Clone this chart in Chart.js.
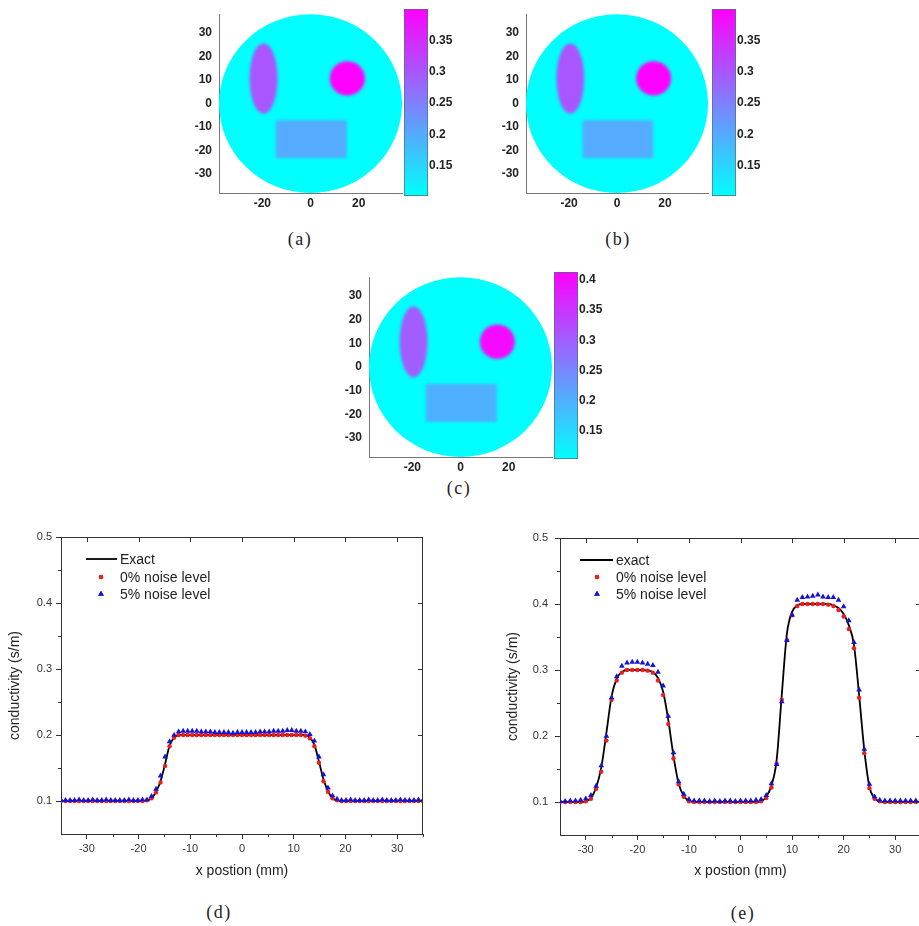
<!DOCTYPE html>
<html>
<head>
<meta charset="utf-8">
<title>Conductivity reconstruction</title>
<script src="https://cdn.jsdelivr.net/npm/chart.js@4/dist/chart.umd.min.js"></script>
<style>
  html, body { margin: 0; padding: 0; background: #fff; }
  body { position: relative; width: 919px; height: 926px; overflow: hidden; }
  canvas { position: absolute; }
  .cap { position: absolute; font-family: "Liberation Serif", "DejaVu Serif", serif; font-size: 18px;
         letter-spacing: 1.5px; color: #222; transform: translate(-50%, -50%); white-space: nowrap; }
</style>
</head>
<body>
<div class="cap" style="left:300px;top:239px">(a)</div>
<div class="cap" style="left:618px;top:239px">(b)</div>
<div class="cap" style="left:459px;top:488px">(c)</div>
<div class="cap" style="left:219px;top:912px">(d)</div>
<div class="cap" style="left:743px;top:913px">(e)</div>
<script>
// ---- conductivity maps (mm, S/m) ----
const mapTicksX = [-20, 0, 20];
const mapTicksY = [-30, -20, -10, 0, 10, 20, 30];
const domainRadius = 38;
const backgroundSigma = 0.1;
// [centre x, centre y, radius x, radius y, sigma]
const ellipseInclusion = [-19.5, 10.7, 5.8, 15.0, 0.3];
const discInclusion = [15.3, 10.7, 7.3, 7.3, 0.4];
// [x0, y0, x1, y1, sigma]
const rectInclusion = [-14.4, -23.2, 15.1, -7.1, 0.2];

const barRangeAB = [0.102, 0.4];
const barTicksAB = [0.15, 0.2, 0.25, 0.3, 0.35];
const barRangeC = [0.1036, 0.413];
const barTicksC = [0.15, 0.2, 0.25, 0.3, 0.35, 0.4];

// ---- profile (d): one inclusion along the line ----
const dPos = [-35, -34.125, -33.25, -32.375, -31.5, -30.625, -29.75, -28.875, -28, -27.125,
  -26.25, -25.375, -24.5, -23.625, -22.75, -21.875, -21, -20.125, -19.25, -18.375,
  -17.5, -16.625, -15.75, -14.875, -14, -13.125, -12.25, -11.375, -10.5, -9.625,
  -8.75, -7.875, -7, -6.125, -5.25, -4.375, -3.5, -2.625, -1.75, -0.875,
  0, 0.875, 1.75, 2.625, 3.5, 4.375, 5.25, 6.125, 7, 7.875,
  8.75, 9.625, 10.5, 11.375, 12.25, 13.125, 14, 14.875, 15.75, 16.625,
  17.5, 18.375, 19.25, 20.125, 21, 21.875, 22.75, 23.625, 24.5, 25.375,
  26.25, 27.125, 28, 28.875, 29.75, 30.625, 31.5, 32.375, 33.25, 34.125,
  35];
const dExact = [0.1, 0.1, 0.1, 0.1, 0.1, 0.1, 0.1, 0.1, 0.1, 0.1,
  0.1, 0.1, 0.1, 0.1, 0.1, 0.1, 0.1, 0.1, 0.1, 0.101,
  0.104, 0.114, 0.13, 0.156, 0.184, 0.196, 0.2, 0.2, 0.2, 0.2,
  0.2, 0.2, 0.2, 0.2, 0.2, 0.2, 0.2, 0.2, 0.2, 0.2,
  0.2, 0.2, 0.2, 0.2, 0.2, 0.2, 0.2, 0.2, 0.2, 0.2,
  0.2, 0.2, 0.2, 0.2, 0.2, 0.196, 0.185, 0.16, 0.133, 0.115,
  0.104, 0.101, 0.1, 0.1, 0.1, 0.1, 0.1, 0.1, 0.1, 0.1,
  0.1, 0.1, 0.1, 0.1, 0.1, 0.1, 0.1, 0.1, 0.1, 0.1,
  0.1];
const dNoise0 = [0.1, 0.1, 0.1, 0.1, 0.1, 0.1, 0.1, 0.1, 0.1, 0.1,
  0.1, 0.1, 0.1, 0.1, 0.1, 0.1, 0.1, 0.1, 0.1, 0.101,
  0.104, 0.113, 0.128, 0.153, 0.183, 0.196, 0.2, 0.2, 0.2, 0.2,
  0.2, 0.2, 0.2, 0.2, 0.2, 0.2, 0.2, 0.2, 0.2, 0.2,
  0.2, 0.2, 0.2, 0.2, 0.2, 0.2, 0.2, 0.2, 0.2, 0.2,
  0.2, 0.2, 0.2, 0.2, 0.199, 0.195, 0.183, 0.158, 0.13, 0.114,
  0.104, 0.101, 0.1, 0.1, 0.1, 0.1, 0.1, 0.1, 0.1, 0.1,
  0.1, 0.1, 0.1, 0.1, 0.1, 0.1, 0.1, 0.1, 0.1, 0.1,
  0.1];
const dNoise5 = [0.101, 0.101, 0.101, 0.101, 0.102, 0.101, 0.101, 0.102, 0.101, 0.101,
  0.102, 0.101, 0.101, 0.101, 0.101, 0.102, 0.101, 0.101, 0.102, 0.102,
  0.107, 0.118, 0.138, 0.167, 0.19, 0.2, 0.205, 0.206, 0.206, 0.206,
  0.206, 0.205, 0.205, 0.205, 0.204, 0.204, 0.204, 0.204, 0.203, 0.204,
  0.204, 0.204, 0.204, 0.204, 0.205, 0.205, 0.205, 0.206, 0.206, 0.206,
  0.207, 0.207, 0.206, 0.206, 0.205, 0.201, 0.191, 0.167, 0.14, 0.12,
  0.108, 0.103, 0.101, 0.101, 0.102, 0.101, 0.101, 0.101, 0.102, 0.101,
  0.101, 0.102, 0.101, 0.101, 0.101, 0.102, 0.101, 0.101, 0.101, 0.102,
  0.101];

// ---- profile (e): two inclusions along the line ----
const ePos = [-35, -34, -33, -32, -31, -30, -29, -28, -27, -26,
  -25, -24, -23, -22, -21, -20, -19, -18, -17, -16,
  -15, -14, -13, -12, -11, -10, -9, -8, -7, -6,
  -5, -4, -3, -2, -1, 0, 1, 2, 3, 4,
  5, 6, 7, 8, 9, 10, 11, 12, 13, 14,
  15, 16, 17, 18, 19, 20, 21, 22, 23, 24,
  25, 26, 27, 28, 29, 30, 31, 32, 33, 34,
  35];
const eExact = [0.1, 0.1, 0.1, 0.1, 0.1, 0.101, 0.106, 0.122, 0.152, 0.205,
  0.26, 0.287, 0.297, 0.3, 0.3, 0.3, 0.3, 0.299, 0.297, 0.288,
  0.267, 0.224, 0.17, 0.128, 0.109, 0.102, 0.1, 0.1, 0.1, 0.1,
  0.1, 0.1, 0.1, 0.1, 0.1, 0.1, 0.1, 0.1, 0.1, 0.101,
  0.108, 0.125, 0.163, 0.262, 0.355, 0.388, 0.398, 0.4, 0.4, 0.4,
  0.4, 0.4, 0.4, 0.398, 0.394, 0.385, 0.368, 0.338, 0.262, 0.179,
  0.123, 0.106, 0.101, 0.1, 0.1, 0.1, 0.1, 0.1, 0.1, 0.1,
  0.1];
const eNoise0 = [0.1, 0.1, 0.1, 0.1, 0.1, 0.101, 0.105, 0.12, 0.146, 0.193,
  0.255, 0.284, 0.296, 0.3, 0.3, 0.3, 0.3, 0.299, 0.296, 0.284,
  0.262, 0.218, 0.166, 0.127, 0.108, 0.101, 0.1, 0.1, 0.1, 0.1,
  0.1, 0.1, 0.1, 0.1, 0.1, 0.1, 0.1, 0.1, 0.1, 0.101,
  0.106, 0.122, 0.158, 0.255, 0.345, 0.383, 0.397, 0.4, 0.4, 0.4,
  0.4, 0.4, 0.399, 0.397, 0.391, 0.381, 0.362, 0.333, 0.258, 0.174,
  0.121, 0.105, 0.101, 0.1, 0.1, 0.1, 0.1, 0.1, 0.1, 0.1,
  0.1];
const eNoise5 = [0.101, 0.101, 0.102, 0.102, 0.103, 0.105, 0.11, 0.124, 0.155, 0.2,
  0.258, 0.29, 0.306, 0.311, 0.312, 0.312, 0.311, 0.309, 0.307, 0.297,
  0.276, 0.23, 0.175, 0.131, 0.112, 0.104, 0.102, 0.102, 0.102, 0.101,
  0.102, 0.101, 0.102, 0.102, 0.101, 0.102, 0.102, 0.102, 0.103, 0.104,
  0.11, 0.128, 0.157, 0.252, 0.345, 0.383, 0.406, 0.41, 0.411, 0.412,
  0.414, 0.411, 0.41, 0.41, 0.406, 0.396, 0.375, 0.342, 0.27, 0.18,
  0.127, 0.108, 0.103, 0.102, 0.102, 0.102, 0.102, 0.102, 0.102, 0.102,
  0.102];

const profTicksX = [-30, -20, -10, 0, 10, 20, 30];
const profMinorX = [-25, -15, -5, 5, 15, 25, 35];
const profTicksY = [0.1, 0.2, 0.3, 0.4, 0.5];
const profMinorY = [0.15, 0.25, 0.35, 0.45];

// ---- helpers ----
const SANS = '"Liberation Sans", Arial, sans-serif';

function coolRGB(v, lo, hi) {
  let t = (v - lo) / (hi - lo);
  t = Math.max(0, Math.min(1, t));
  return `rgb(${Math.round(255 * t)},${Math.round(255 * (1 - t))},255)`;
}

function makeCanvas(left, top, w, h) {
  const c = document.createElement('canvas');
  c.width = w; c.height = h;
  c.style.left = left + 'px'; c.style.top = top + 'px';
  c.style.width = w + 'px'; c.style.height = h + 'px';
  document.body.appendChild(c);
  return c;
}

const fixedTicks = arr => scale => { scale.ticks = arr.map(v => ({ value: v })); };

// paints the circular domain with its inclusions in data coordinates
const phantomPlugin = {
  id: 'phantom',
  beforeDatasetsDraw(chart, _args, opts) {
    const { ctx } = chart;
    const sx = chart.scales.x, sy = chart.scales.y;
    const px = v => sx.getPixelForValue(v);
    const py = v => sy.getPixelForValue(v);
    const [lo, hi] = opts.range;
    ctx.save();
    const cx = px(0), cy = py(0);
    ctx.beginPath();
    ctx.ellipse(cx, cy, px(domainRadius) - cx, cy - py(domainRadius), 0, 0, Math.PI * 2);
    ctx.fillStyle = coolRGB(backgroundSigma, lo, hi);
    ctx.fill();
    ctx.clip();
    ctx.filter = 'blur(1.6px)';
    // rectangular inclusion
    const [x0, y0, x1, y1, sr] = rectInclusion;
    ctx.fillStyle = coolRGB(sr, lo, hi);
    ctx.fillRect(px(x0), py(y1), px(x1) - px(x0), py(y0) - py(y1));
    // elliptical and round inclusions
    [ellipseInclusion, discInclusion].forEach(([ex, ey, rx, ry, s]) => {
      const ecx = px(ex), ecy = py(ey);
      ctx.beginPath();
      ctx.ellipse(ecx, ecy, px(ex + rx) - ecx, ecy - py(ey + ry), 0, 0, Math.PI * 2);
      ctx.fillStyle = coolRGB(s, lo, hi);
      ctx.fill();
    });
    ctx.restore();
  }
};

function phantomMap(left, top, w, h, range) {
  const tickFont = { family: SANS, size: 12, weight: 'bold' };
  return new Chart(makeCanvas(left, top, w, h), {
    type: 'scatter',
    data: { datasets: [] },
    options: {
      responsive: false, animation: false, devicePixelRatio: 1,
      layout: { padding: { top: 10, right: 2, left: 0, bottom: 0 } },
      scales: {
        x: {
          type: 'linear', min: -domainRadius, max: domainRadius,
          afterBuildTicks: fixedTicks(mapTicksX),
          afterFit: s => { s.height = 22; },
          grid: { display: false, drawTicks: false },
          border: { display: true, color: '#777', width: 1 },
          ticks: { padding: 3, color: '#222', font: tickFont, maxRotation: 0, autoSkip: false, callback: v => String(v) }
        },
        y: {
          type: 'linear', min: -domainRadius, max: domainRadius,
          afterBuildTicks: fixedTicks(mapTicksY),
          afterFit: s => { s.width = 39; },
          grid: { display: false, drawTicks: false },
          border: { display: true, color: '#777', width: 1 },
          ticks: { padding: 7, color: '#222', font: tickFont, autoSkip: false, callback: v => String(v) }
        }
      },
      plugins: { legend: { display: false }, tooltip: { enabled: false }, phantom: { range } }
    },
    plugins: [phantomPlugin]
  });
}

function colorBar(left, top, w, h, padTop, padBottom, range, ticks) {
  return new Chart(makeCanvas(left, top, w, h), {
    type: 'bar',
    data: {
      labels: [''],
      datasets: [{
        data: [range],
        backgroundColor: c => {
          const chart = c.chart;
          if (!chart.chartArea) return coolRGB(range[0], range[0], range[1]);
          const y = chart.scales.y;
          const g = chart.ctx.createLinearGradient(0, y.getPixelForValue(range[0]), 0, y.getPixelForValue(range[1]));
          g.addColorStop(0, coolRGB(range[0], range[0], range[1]));
          g.addColorStop(1, coolRGB(range[1], range[0], range[1]));
          return g;
        },
        borderColor: '#4d6f77', borderWidth: 1, borderSkipped: false,
        barPercentage: 1, categoryPercentage: 1
      }]
    },
    options: {
      responsive: false, animation: false, devicePixelRatio: 1,
      layout: { padding: { top: padTop, bottom: padBottom, left: 0, right: 0 } },
      scales: {
        x: { display: false },
        y: {
          position: 'right', min: range[0], max: range[1],
          afterBuildTicks: fixedTicks(ticks),
          afterFit: s => { s.width = w - 24; },
          grid: { display: false, drawTicks: false },
          border: { display: false },
          ticks: { padding: 1, color: '#222', font: { family: SANS, size: 12, weight: 'bold' }, autoSkip: false, callback: v => String(v) }
        }
      },
      plugins: { legend: { display: false }, tooltip: { enabled: false } }
    }
  });
}

// closed frame: top/right lines with inward ticks, minor ticks on left/bottom
const framePlugin = {
  id: 'frame',
  afterDatasetsDraw(chart) {
    const { ctx, chartArea: a } = chart;
    const sx = chart.scales.x, sy = chart.scales.y;
    ctx.save();
    ctx.strokeStyle = '#333';
    ctx.lineWidth = 1;
    ctx.beginPath();
    ctx.moveTo(a.left, a.top + 0.5); ctx.lineTo(a.right, a.top + 0.5);
    ctx.moveTo(a.right - 0.5, a.top); ctx.lineTo(a.right - 0.5, a.bottom);
    profTicksX.forEach(v => {
      const p = Math.round(sx.getPixelForValue(v)) + 0.5;
      ctx.moveTo(p, a.top); ctx.lineTo(p, a.top + 5);
    });
    profTicksY.forEach(v => {
      const p = Math.round(sy.getPixelForValue(v)) + 0.5;
      ctx.moveTo(a.right, p); ctx.lineTo(a.right - 5, p);
    });
    profMinorX.forEach(v => {
      const p = Math.round(sx.getPixelForValue(v)) + 0.5;
      ctx.moveTo(p, a.bottom); ctx.lineTo(p, a.bottom + 3);
    });
    profMinorY.forEach(v => {
      const p = Math.round(sy.getPixelForValue(v)) + 0.5;
      ctx.moveTo(a.left, p); ctx.lineTo(a.left - 3, p);
    });
    ctx.stroke();
    ctx.restore();
  }
};

// legend box inside the plot area
const insetLegend = {
  id: 'insetLegend',
  afterDraw(chart, _args, o) {
    const { ctx, chartArea: a } = chart;
    ctx.save();
    ctx.font = '14px ' + SANS;
    ctx.textBaseline = 'middle';
    chart.data.datasets.forEach((ds, k) => {
      const y = a.top + o.rows[k];
      if (ds.showLine) {
        ctx.strokeStyle = ds.borderColor;
        ctx.lineWidth = ds.borderWidth;
        ctx.beginPath();
        ctx.moveTo(a.left + o.lineFrom, y); ctx.lineTo(a.left + o.lineTo, y);
        ctx.stroke();
      } else {
        ctx.fillStyle = ds.pointBackgroundColor;
        Chart.helpers.drawPoint(ctx, { pointStyle: ds.pointStyle, radius: ds.pointRadius, rotation: 0, borderWidth: 0 },
          a.left + o.markX, y);
        ctx.fill();
      }
      ctx.fillStyle = '#222';
      ctx.fillText(ds.label, a.left + o.textX, y + 1);
    });
    ctx.restore();
  }
};

function pts(xs, ys) { return xs.map((x, i) => ({ x, y: ys[i] })); }

function profileChart(left, top, w, h, cfg) {
  const tickFont = { family: SANS, size: 11 };
  const titleFont = { family: SANS, size: 14 };
  return new Chart(makeCanvas(left, top, w, h), {
    type: 'scatter',
    data: {
      datasets: [
        { label: cfg.exactLabel, data: pts(cfg.pos, cfg.exact), showLine: true, borderColor: '#000', borderWidth: 1.8,
          pointRadius: 0, cubicInterpolationMode: 'monotone', order: 3 },
        { label: '0% noise level', data: pts(cfg.pos, cfg.noise0), showLine: false, pointStyle: 'circle',
          pointRadius: 2.2, pointBackgroundColor: '#ee1c1c', pointBorderWidth: 0, order: 2 },
        { label: '5% noise level', data: pts(cfg.pos, cfg.noise5), showLine: false, pointStyle: 'triangle',
          pointRadius: 3.3, pointBackgroundColor: '#1414d8', pointBorderWidth: 0, order: 1 }
      ]
    },
    options: {
      responsive: false, animation: false, devicePixelRatio: 1,
      layout: { padding: { top: cfg.padTop, right: cfg.padRight, left: 0, bottom: 0 } },
      scales: {
        x: {
          type: 'linear', min: -35, max: 35,
          afterBuildTicks: fixedTicks(profTicksX),
          afterFit: s => { s.height = cfg.xAxisH; },
          grid: { display: true, drawOnChartArea: false, drawTicks: true, tickLength: 5, color: '#333' },
          border: { display: true, color: '#333', width: 1 },
          ticks: { padding: 3, color: '#333', font: tickFont, maxRotation: 0, autoSkip: false, callback: v => String(v) },
          title: { display: true, text: 'x postion (mm)', color: '#222', font: titleFont, padding: { top: 0, bottom: 0 } }
        },
        y: {
          type: 'linear', min: 0.05, max: 0.5,
          afterBuildTicks: fixedTicks(profTicksY),
          afterFit: s => { s.width = cfg.yAxisW; },
          grid: { display: true, drawOnChartArea: false, drawTicks: true, tickLength: 5, color: '#333' },
          border: { display: true, color: '#333', width: 1 },
          ticks: { padding: cfg.yTickPad, color: '#333', font: tickFont, autoSkip: false, callback: v => String(v) },
          title: { display: true, text: 'conductivity (s/m)', color: '#222', font: titleFont, padding: { top: cfg.yTitlePad, bottom: 0 } }
        }
      },
      plugins: { legend: { display: false }, tooltip: { enabled: false }, insetLegend: cfg.legend }
    },
    plugins: [framePlugin, insetLegend]
  });
}

// ---- build the figure ----
phantomMap(180, 0, 224, 215, barRangeAB);
colorBar(404, 0, 60, 215, 9, 19, barRangeAB, barTicksAB);

phantomMap(487, 0, 223, 215, barRangeAB);
colorBar(712, 0, 60, 215, 9, 19, barRangeAB, barTicksAB);

phantomMap(330, 263, 224, 216, barRangeC);
colorBar(554, 263, 60, 216, 9, 20, barRangeC, barTicksC);

profileChart(0, 520, 440, 360, {
  pos: dPos, exact: dExact, noise0: dNoise0, noise5: dNoise5, exactLabel: 'Exact',
  padTop: 17, padRight: 17, xAxisH: 46, yAxisW: 61, yTickPad: 4, yTitlePad: 6.5,
  legend: { rows: [22, 40, 57], lineFrom: 25, lineTo: 56, markX: 40, textX: 59 }
});

profileChart(490, 520, 448, 360, {
  pos: ePos, exact: eExact, noise0: eNoise0, noise5: eNoise5, exactLabel: 'exact',
  padTop: 18, padRight: 17, xAxisH: 45, yAxisW: 70, yTickPad: 7, yTitlePad: 14.5,
  legend: { rows: [22, 39, 56], lineFrom: 20, lineTo: 53, markX: 37, textX: 56 }
});
</script>
</body>
</html>
